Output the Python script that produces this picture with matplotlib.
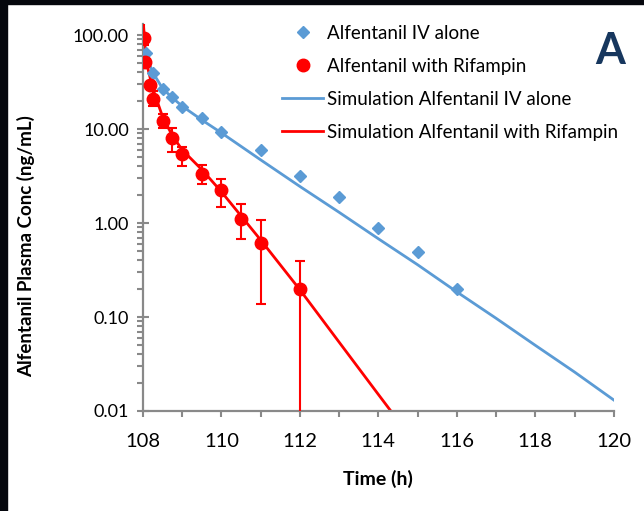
import numpy as np
import matplotlib.pyplot as plt
from matplotlib.ticker import FixedLocator, LogLocator, NullFormatter, FuncFormatter
from matplotlib.patches import Rectangle
from matplotlib.lines import Line2D

plt.rcParams['font.family'] = ['Lato', 'DejaVu Sans']

# observed data, alfentanil IV alone
t_iv = [108.083, 108.25, 108.5, 108.75, 109, 109.5, 110, 111, 112, 113, 114, 115, 116]
c_iv = [64, 39.5, 26.7, 21.9, 17.1, 13.1, 9.3, 6.0, 3.16, 1.9, 0.89, 0.49, 0.2]

# observed data, alfentanil with rifampin (mean, lower, upper)
t_rif = [108.02, 108.04, 108.167, 108.25, 108.5, 108.75, 109, 109.5, 110, 110.5, 111, 112]
c_rif = [93, 52, 29.4, 20.9, 12.2, 8.0, 5.4, 3.3, 2.24, 1.10, 0.61, 0.2]
lo_rif = [78, 48, 27, 17.6, 10.2, 5.7, 4.0, 2.6, 1.49, 0.68, 0.137, 0.001]
hi_rif = [150, 56, 32, 25.5, 14.4, 10.3, 6.5, 4.1, 2.94, 1.59, 1.09, 0.39]

# simulated profiles
t_sim = [108, 108.083, 108.25, 108.5, 108.75, 109, 109.5, 110, 111, 112, 113, 114, 115, 116, 117, 118, 119, 120]
sim_iv = [75, 60, 40, 27, 21.5, 17.5, 12.5, 9.1, 4.7, 2.45, 1.3, 0.68, 0.36, 0.185, 0.097, 0.05, 0.026, 0.0131]
sim_rif = [150, 52, 27, 13.5, 8.5, 6.0, 3.7, 2.15, 0.66, 0.195, 0.054, 0.015, 0.0042, 0.0012, 0.0004, 0.0001, 0.00003, 0.00001]

blue = '#5B9BD5'
red = '#FF0000'
grey = '#898989'

fig = plt.figure(figsize=(6.44, 5.11), dpi=100)
ax = fig.add_axes([0.222, 0.1957, 0.731, 0.7573])

# dark slide edges
fig.patches.append(Rectangle((0, 0), 7 / 644, 1, transform=fig.transFigure, color='#05070d', zorder=0))
fig.patches.append(Rectangle((0, 1 - 4 / 511), 1, 4 / 511, transform=fig.transFigure, color='#05070d', zorder=0))

l_iv, = ax.plot(t_sim, sim_iv, color=blue, lw=2, zorder=2)
l_rif, = ax.plot(t_sim, sim_rif, color=red, lw=2, zorder=2)
m_iv, = ax.plot(t_iv, c_iv, 'D', color=blue, ms=6, ls='none', zorder=3)

c = np.array(c_rif)
yerr = [c - np.array(lo_rif), np.array(hi_rif) - c]
ax.errorbar(t_rif, c_rif, yerr=yerr, fmt='o', color=red, ms=9, ecolor=red,
            elinewidth=1.5, capsize=3.5, capthick=1.5, zorder=4)
m_rif = Line2D([], [], marker='o', color=red, ms=9, ls='none')

ax.set_yscale('log')
ax.set_ylim(0.01, 131)
ax.set_xlim(108, 120)

ax.xaxis.set_major_locator(FixedLocator(np.arange(108, 121, 2)))
ax.xaxis.set_minor_locator(FixedLocator(np.arange(109, 121, 2)))
ax.yaxis.set_major_locator(FixedLocator([0.01, 0.1, 1, 10, 100]))
ax.yaxis.set_minor_locator(LogLocator(base=10, subs=np.arange(2, 10)))
ax.yaxis.set_minor_formatter(NullFormatter())
ax.yaxis.set_major_formatter(FuncFormatter(lambda v, p: f'{v:.2f}'))

for s in ['top', 'right']:
    ax.spines[s].set_visible(False)
for s in ['left', 'bottom']:
    ax.spines[s].set_color(grey)
    ax.spines[s].set_linewidth(1.6)

ax.tick_params(axis='x', which='both', direction='out', length=4, width=1.5, color=grey,
               labelsize=14.5, pad=12)
ax.tick_params(axis='y', which='major', direction='inout', length=8, width=1.5, color=grey,
               labelsize=13, pad=6)
ax.tick_params(axis='y', which='minor', direction='out', length=4, width=1.5, color=grey)

ax.set_xlabel('Time (h)', fontsize=14, fontweight='bold', labelpad=14)
ax.set_ylabel('Alfentanil Plasma Conc (ng/mL)', fontsize=13.5, fontweight='bold')
ax.yaxis.set_label_coords(-0.229, 0.426)

ax.legend([m_iv, m_rif, l_iv, l_rif],
          ['Alfentanil IV alone', 'Alfentanil with Rifampin',
           'Simulation Alfentanil IV alone', 'Simulation Alfentanil with Rifampin'],
          loc='upper left', bbox_to_anchor=(0.412, 0.984), bbox_transform=fig.transFigure,
          frameon=False, fontsize=13.5, handlelength=2.2, handletextpad=0.2, labelspacing=0.85)

fig.text(0.948, 0.9, 'A', fontsize=31, fontweight='bold', color='#17375E', ha='center', va='center')

fig.savefig('out.png', dpi=100)
